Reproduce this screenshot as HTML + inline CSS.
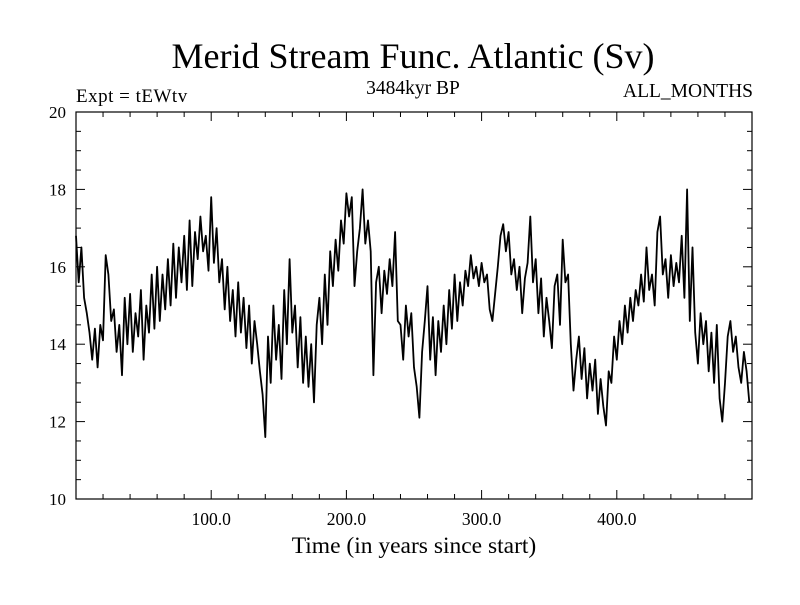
<!DOCTYPE html>
<html><head><meta charset="utf-8"><style>
body{margin:0;background:#fff}
svg text{font-family:"Liberation Serif",serif;fill:#000}
</style></head><body>
<svg id="chart" width="800" height="600">
<text x="413" y="68" font-size="36" text-anchor="middle">Merid Stream Func. Atlantic (Sv)</text>
<text x="76" y="102" font-size="19" letter-spacing="0.5">Expt = tEWtv</text>
<text x="413" y="94" font-size="19.5" text-anchor="middle">3484kyr BP</text>
<text x="753" y="97" font-size="19.5" text-anchor="end">ALL_MONTHS</text>
<text x="414" y="553" font-size="23.5" text-anchor="middle">Time (in years since start)</text>
<rect x="76" y="112" width="676" height="387" fill="none" stroke="#000" stroke-width="1.2"/>
<g id="ticks"></g>
<path id="series" fill="none" stroke="#000" stroke-width="1.8" stroke-linejoin="round"/>
</svg>
<script>
const values = [
16.8,15.6,16.5,15.2,14.8,14.3,13.6,14.4,13.4,14.5,
14.1,16.3,15.8,14.6,14.9,13.8,14.5,13.2,15.2,14.0,
15.3,13.8,14.8,14.2,15.4,13.6,15.0,14.3,15.8,14.4,
16.0,14.6,15.8,14.9,16.2,15.0,16.6,15.2,16.5,15.6,
16.8,15.4,17.2,15.5,16.9,16.2,17.3,16.4,16.8,15.9,
17.8,16.1,17.0,15.6,16.2,14.9,16.0,14.6,15.4,14.2,
15.6,14.3,15.2,13.9,15.0,13.5,14.6,14.0,13.3,12.7,
11.6,14.2,13.0,15.0,13.6,14.5,13.1,15.4,14.0,16.2,
14.3,15.0,13.4,14.7,13.0,14.2,12.9,14.0,12.5,14.5,
15.2,14.0,15.8,14.5,16.4,15.5,16.7,15.9,17.2,16.6,
17.9,17.3,17.8,15.5,16.4,17.0,18.0,16.6,17.2,16.4,
13.2,15.6,16.0,14.8,15.9,15.3,16.2,15.5,16.9,14.6,
14.5,13.6,15.0,14.2,14.8,13.4,12.9,12.1,13.8,14.6,
15.5,13.6,14.7,13.2,14.6,13.8,15.0,14.0,15.4,14.4,
15.8,14.6,15.6,15.0,15.9,15.5,16.3,15.7,16.0,15.5,
16.1,15.6,15.8,14.9,14.6,15.3,16.0,16.8,17.1,16.4,
16.9,15.8,16.2,15.4,16.0,14.8,15.7,16.1,17.3,15.6,
16.2,14.8,15.7,14.2,15.2,14.6,13.9,15.5,15.8,14.5,
16.7,15.6,15.8,14.0,12.8,13.6,14.2,13.1,13.9,12.6,
13.5,12.8,13.6,12.2,13.1,12.4,11.9,13.3,13.0,14.2,
13.6,14.6,14.0,15.0,14.3,15.2,14.6,15.4,15.0,15.8,
15.1,16.5,15.4,15.8,15.0,16.9,17.3,15.8,16.2,15.2,
16.3,15.5,16.1,15.6,16.8,15.2,18.0,14.6,16.5,14.3,
13.5,14.8,14.0,14.6,13.3,14.3,13.0,14.5,12.6,12.0,
13.0,14.2,14.6,13.8,14.2,13.4,13.0,13.8,13.3,12.5
];
const yearStep = 2;
const yTicks = [10,12,14,16,18,20];
const xTicks = [100,200,300,400];
const xTickLabels = ["100.0","200.0","300.0","400.0"];

const X0=76,X1=752,Y0=499,Y1=112;
const xs = v => X0 + (v-0)/(500-0)*(X1-X0);
const ys = v => Y0 - (v-10)/(20-10)*(Y0-Y1);
const NS="http://www.w3.org/2000/svg";
const svg=document.getElementById('chart');
const tg=document.getElementById('ticks');
let d="";
values.forEach((v,i)=>{d+=(i?"L":"M")+xs(i*yearStep).toFixed(1)+","+ys(v).toFixed(1);});
document.getElementById('series').setAttribute('d',d);
function line(x1,y1,x2,y2){const l=document.createElementNS(NS,'line');
l.setAttribute('x1',x1);l.setAttribute('y1',y1);l.setAttribute('x2',x2);l.setAttribute('y2',y2);
l.setAttribute('stroke','#000');l.setAttribute('stroke-width','1');


tg.appendChild(l);}
for(let v=10;v<=20;v+=0.5){const y=ys(v);const L=(v%2===0)?9:5;line(X0,y,X0+L,y);line(X1,y,X1-L,y);}
for(let v=20;v<500;v+=20){const x=xs(v);const L=(v%100===0)?9:5;line(x,Y0,x,Y0-L);line(x,Y1,x,Y1+L);}
yTicks.forEach(v=>{const t=document.createElementNS(NS,'text');
t.setAttribute('x',66);t.setAttribute('y',ys(v)+6);t.setAttribute('font-size','17');t.setAttribute('text-anchor','end');
t.textContent=v;


svg.appendChild(t);});
xTicks.forEach((v,i)=>{const t=document.createElementNS(NS,'text');
t.setAttribute('x',xs(v));t.setAttribute('y',525);t.setAttribute('font-size','17.5');t.setAttribute('text-anchor','middle');
t.textContent=xTickLabels[i];


svg.appendChild(t);});
</script>
</body></html>
